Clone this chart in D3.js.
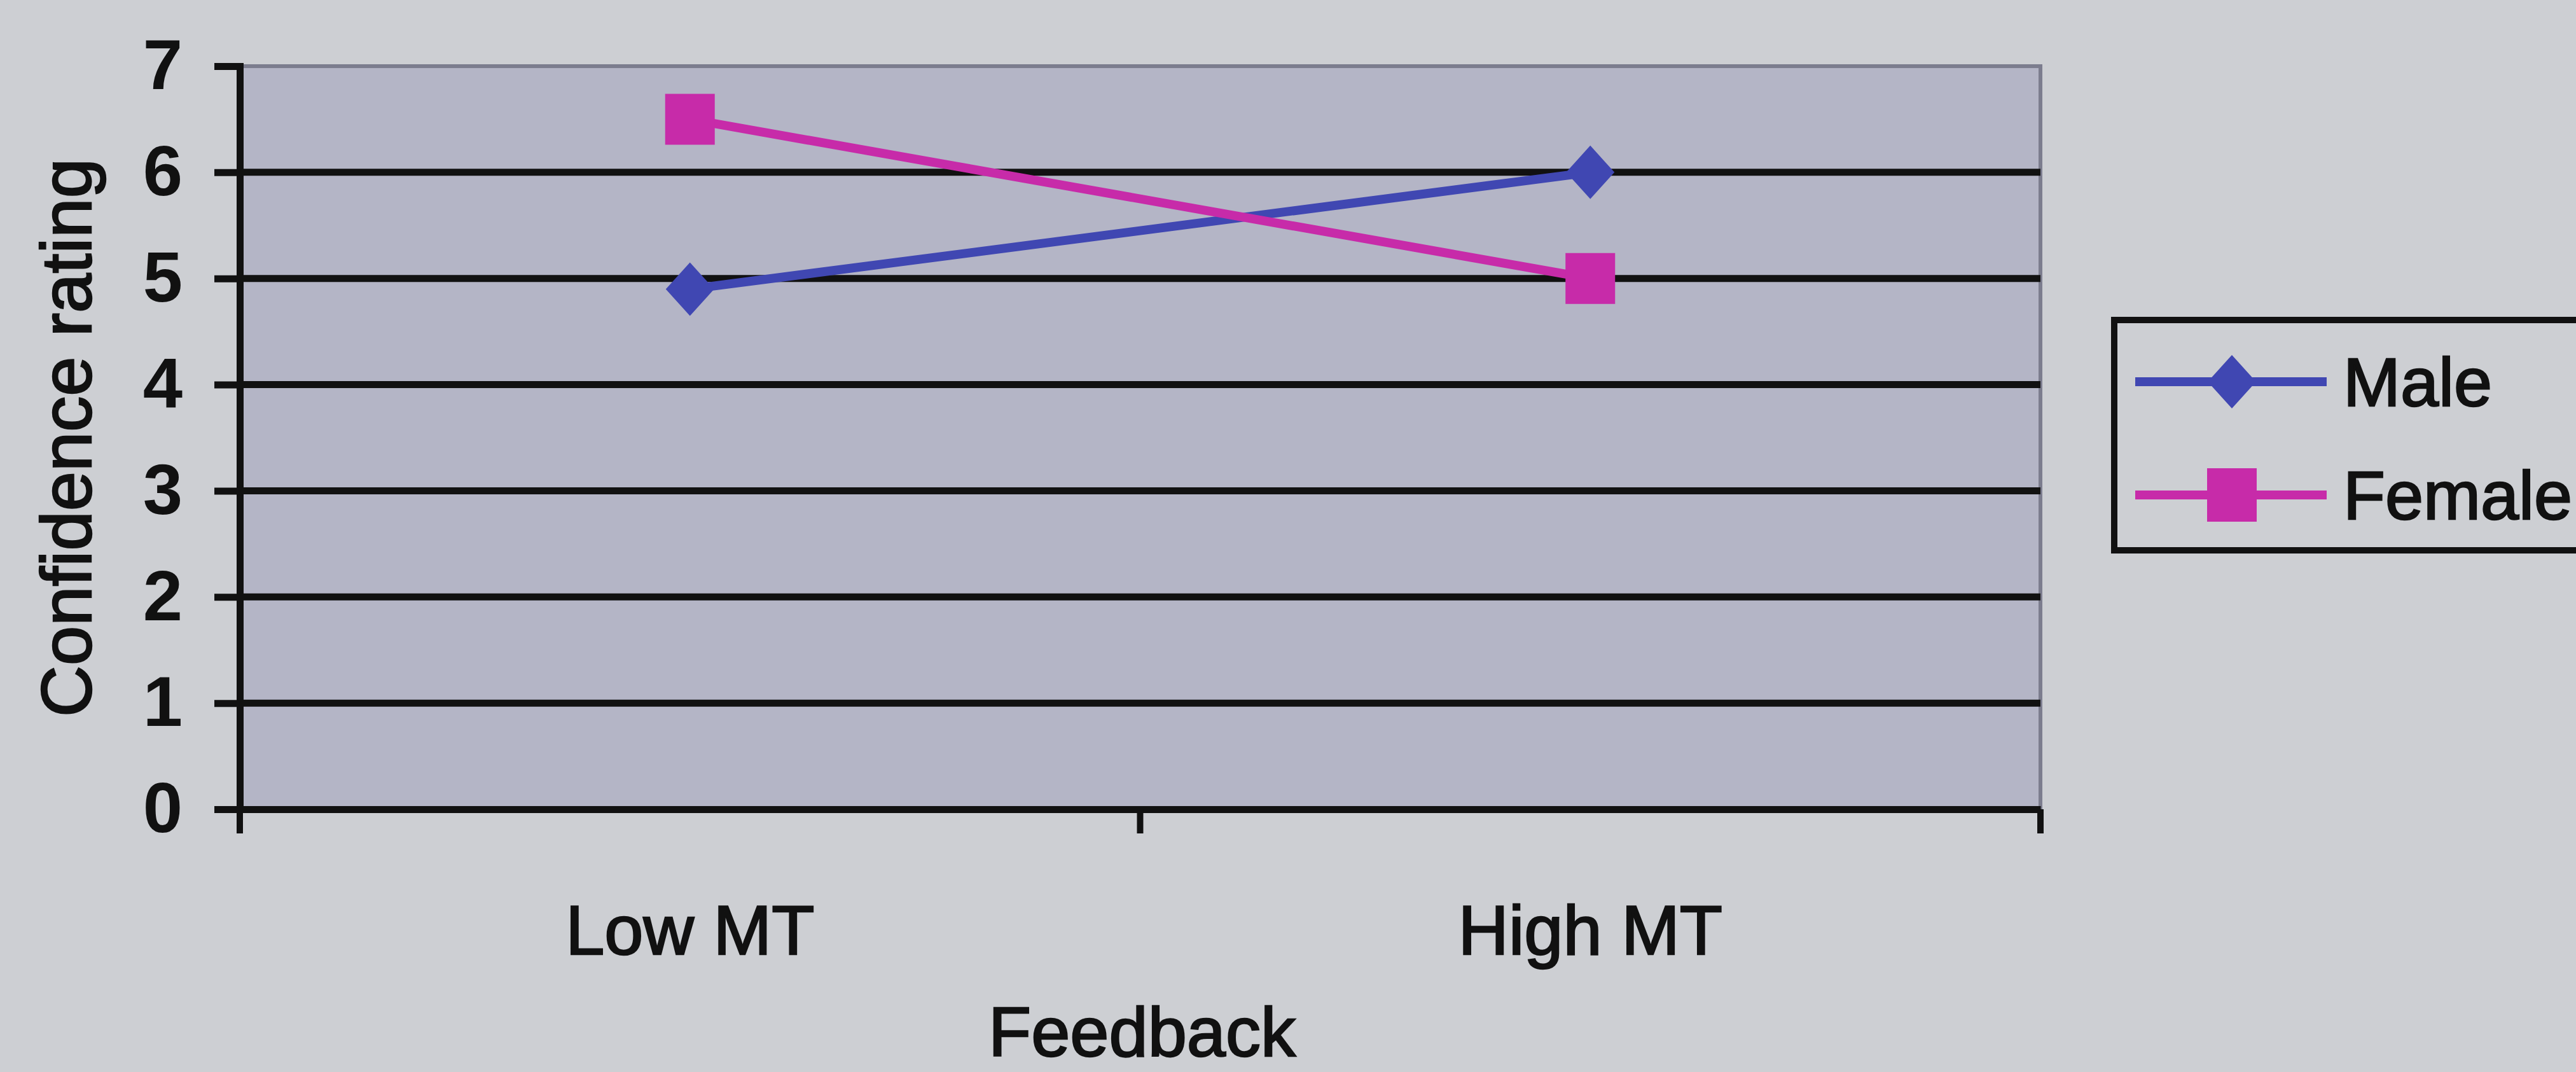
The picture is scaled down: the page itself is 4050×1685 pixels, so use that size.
<!DOCTYPE html>
<html>
<head>
<meta charset="utf-8">
<script src="https://cdn.jsdelivr.net/npm/d3@7"></script>
<style>
  html, body { margin: 0; padding: 0; background: #cdcfd3; }
  svg { display: block; }
  text { font-family: "Liberation Sans", Arial, sans-serif; fill: #111; }
</style>
</head>
<body>
<svg id="chart" width="4050" height="1685"></svg>
<script>
// Data
const categories = ["Low MT", "High MT"];
const seriesNames = ["Male", "Female"];
const maleValues = [4.9, 6.0];
const femaleValues = [6.5, 5.0];
const yTicks = [0, 1, 2, 3, 4, 5, 6, 7];
const xTitle = "Feedback";
const yTitle = "Confidence rating";

const colors = { Male: "#4047b2", Female: "#c72ba9" };
const series = [
  { name: seriesNames[0], values: maleValues, shape: "diamond" },
  { name: seriesNames[1], values: femaleValues, shape: "square" }
];

const W = 4050, H = 1685;
const plot = { left: 377, right: 3208, top: 104, bottom: 1272 };
const ink = "#111";

const svg = d3.select("#chart");

svg.append("rect").attr("width", W).attr("height", H).attr("fill", "#cdcfd3");

const x = d3.scaleBand().domain(categories).range([plot.left, plot.right]).padding(0);
const y = d3.scaleLinear().domain([0, 7]).range([plot.bottom, plot.top]);
const cx = c => x(c) + x.bandwidth() / 2;

// Plot area
svg.append("rect")
  .attr("x", plot.left).attr("y", plot.top)
  .attr("width", plot.right - plot.left).attr("height", plot.bottom - plot.top)
  .attr("fill", "#b4b5c6")
  .attr("stroke", "#7c7d8e").attr("stroke-width", 6);

// Horizontal gridlines
svg.append("g").selectAll("line")
  .data(yTicks.filter(t => t > 0 && t < 7))
  .join("line")
  .attr("x1", plot.left).attr("x2", plot.right)
  .attr("y1", d => y(d)).attr("y2", d => y(d))
  .attr("stroke", ink).attr("stroke-width", 11);

// Y axis
const yAxis = svg.append("g")
  .attr("transform", `translate(${plot.left},0)`)
  .call(d3.axisLeft(y).tickValues(yTicks).tickSize(40).tickPadding(50).tickFormat(d3.format("d")));
yAxis.select(".domain").attr("stroke", ink).attr("stroke-width", 11);
yAxis.selectAll(".tick line").attr("stroke", ink).attr("stroke-width", 11);
yAxis.selectAll(".tick text")
  .attr("font-size", 112).attr("font-weight", "bold")
  .attr("font-family", "'Liberation Sans', Arial, sans-serif").attr("fill", ink);

// X axis
const xAxis = svg.append("g")
  .attr("transform", `translate(0,${plot.bottom})`)
  .call(d3.axisBottom(x).tickSize(0).tickPadding(150).tickSizeOuter(0));
xAxis.select(".domain").attr("stroke", ink).attr("stroke-width", 11);
xAxis.selectAll(".tick text")
  .attr("font-size", 110)
  .attr("font-family", "'Liberation Sans', Arial, sans-serif")
  .attr("fill", ink).attr("stroke", ink).attr("stroke-width", 2.5);

// Category boundary tick marks
const boundaries = categories.map(c => x(c)).concat([plot.right]);
svg.append("g").selectAll("line")
  .data(boundaries)
  .join("line")
  .attr("x1", d => d).attr("x2", d => d)
  .attr("y1", plot.bottom).attr("y2", plot.bottom + 38)
  .attr("stroke", ink).attr("stroke-width", 10);

// Axis titles
svg.append("text")
  .attr("x", cx(categories[0]) + x.bandwidth() / 2 + 3)
  .attr("y", 1660)
  .attr("text-anchor", "middle")
  .attr("font-size", 110)
  .attr("stroke", ink).attr("stroke-width", 2.5)
  .text(xTitle);

svg.append("text")
  .attr("transform", `translate(143,${(plot.top + plot.bottom) / 2}) rotate(-90)`)
  .attr("text-anchor", "middle")
  .attr("font-size", 112)
  .attr("stroke", ink).attr("stroke-width", 2.5)
  .text(yTitle);

// Marker shapes
function markerPath(shape, w, h) {
  if (shape === "diamond") {
    return `M0,${-h / 2}L${w / 2},0L0,${h / 2}L${-w / 2},0Z`;
  }
  return `M${-w / 2},${-h / 2}H${w / 2}V${h / 2}H${-w / 2}Z`;
}

const line = d3.line().x((d, i) => cx(categories[i])).y(d => y(d));

// Series lines and markers
series.forEach(s => {
  svg.append("path")
    .datum(s.values)
    .attr("d", line)
    .attr("fill", "none")
    .attr("stroke", colors[s.name])
    .attr("stroke-width", 14);
});
series.forEach(s => {
  svg.append("g").selectAll("path")
    .data(s.values)
    .join("path")
    .attr("transform", (d, i) => `translate(${cx(categories[i])},${y(d)})`)
    .attr("d", s.shape === "diamond" ? markerPath("diamond", 76, 84) : markerPath("square", 78, 80))
    .attr("fill", colors[s.name]);
});

// Legend
const legend = svg.append("g");
legend.append("rect")
  .attr("x", 3324).attr("y", 503)
  .attr("width", 800).attr("height", 362)
  .attr("fill", "#cdcfd3")
  .attr("stroke", ink).attr("stroke-width", 10);

const legendRows = [600, 778];
series.forEach((s, i) => {
  const ly = legendRows[i];
  legend.append("line")
    .attr("x1", 3357).attr("x2", 3658)
    .attr("y1", ly).attr("y2", ly)
    .attr("stroke", colors[s.name]).attr("stroke-width", 14);
  legend.append("path")
    .attr("transform", `translate(3509,${ly})`)
    .attr("d", s.shape === "diamond" ? markerPath("diamond", 76, 84) : markerPath("square", 78, 84))
    .attr("fill", colors[s.name]);
  legend.append("text")
    .attr("x", 3684).attr("y", ly + 38)
    .attr("font-size", 108)
    .attr("stroke", ink).attr("stroke-width", 2.5)
    .text(s.name);
});
</script>
</body>
</html>
